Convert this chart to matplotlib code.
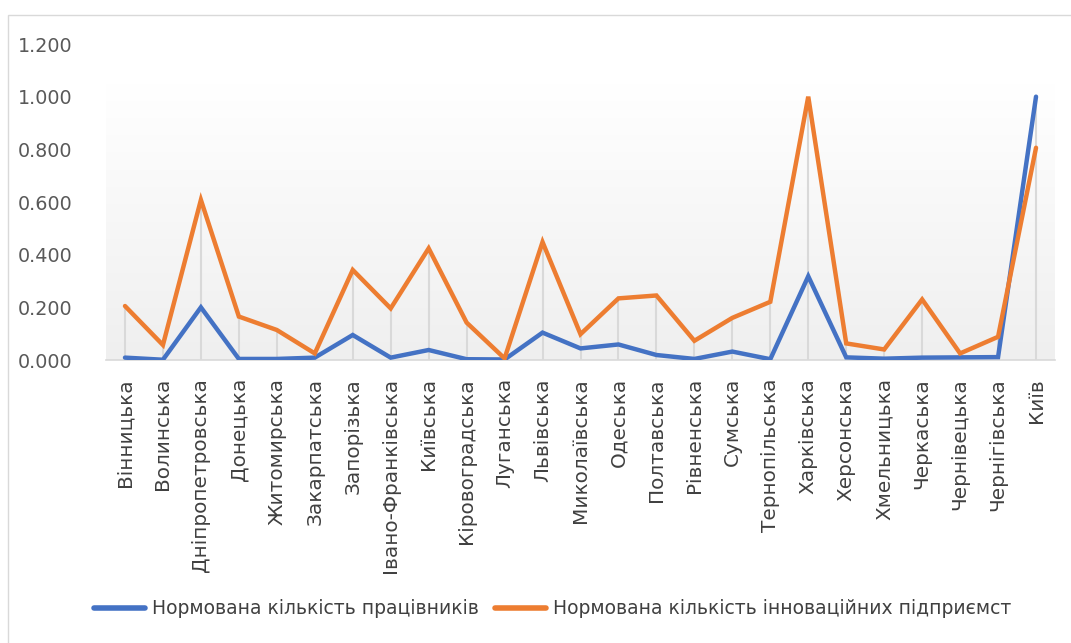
import matplotlib
matplotlib.use("Agg")
import matplotlib.pyplot as plt
import numpy as np
from matplotlib.patches import Rectangle
from matplotlib.colors import LinearSegmentedColormap

regions = ["Вінницька", "Волинська", "Дніпропетровська", "Донецька", "Житомирська",
           "Закарпатська", "Запорізька", "Івано-Франківська", "Київська", "Кіровоградська",
           "Луганська", "Львівська", "Миколаївська", "Одеська", "Полтавська",
           "Рівненська", "Сумська", "Тернопільська", "Харківська", "Херсонська",
           "Хмельницька", "Черкаська", "Чернівецька", "Чернігівська", "Київ"]

workers = [0.009, 0.001, 0.200, 0.004, 0.004, 0.009, 0.095, 0.009, 0.038, 0.003,
           0.002, 0.104, 0.044, 0.059, 0.019, 0.004, 0.032, 0.003, 0.318, 0.010,
           0.005, 0.009, 0.010, 0.011, 1.000]

innov = [0.205, 0.057, 0.608, 0.165, 0.114, 0.025, 0.342, 0.196, 0.424, 0.142,
         0.006, 0.448, 0.098, 0.234, 0.245, 0.073, 0.160, 0.221, 1.000, 0.063,
         0.040, 0.230, 0.025, 0.088, 0.806]

yticks = [0.0, 0.2, 0.4, 0.6, 0.8, 1.0, 1.2]
series_names = ["Нормована кількість працівників", "Нормована кількість інноваційних підприємст"]

W, H = 1071, 643
fig = plt.figure(figsize=(W / 100, H / 100), dpi=100)
fig.patch.set_facecolor("white")

# chart border
fig.patches.append(Rectangle((8 / W, -0.01), 1.02, 1 - 15 / H + 0.01, transform=fig.transFigure,
                             fill=False, edgecolor="#d9d9d9", linewidth=1.0))

ax = fig.add_axes([106 / W, 1 - 360 / H, (1055 - 106) / W, (360 - 44) / H])
x = np.arange(len(regions))
ax.set_xlim(-0.5, len(regions) - 0.5)
ax.set_ylim(0, 1.2)

# gradient background (plot area)
grad = np.linspace(0, 1, 256).reshape(-1, 1)
cmap = LinearSegmentedColormap.from_list("g", ["#efefef", "#ffffff"])
ax.imshow(grad, aspect="auto", cmap=cmap, origin="lower",
          extent=[-0.5, len(regions) - 0.5, 0, 1.05], zorder=0)

# drop lines
tops = np.maximum(workers, innov)
ax.vlines(x, 0, tops, colors="#d9d9d9", linewidth=1.5, zorder=1)

ax.plot(x, workers, color="#4472C4", linewidth=3.2, solid_capstyle="round",
        solid_joinstyle="miter", label=series_names[0], zorder=3)
ax.plot(x, innov, color="#ED7D31", linewidth=3.2, solid_capstyle="round",
        solid_joinstyle="miter", label=series_names[1], zorder=3)

for s in ["top", "right", "left"]:
    ax.spines[s].set_visible(False)
ax.spines["bottom"].set_color("#d9d9d9")
ax.spines["bottom"].set_linewidth(1.2)

ax.set_yticks(yticks)
ax.set_yticklabels([f"{v:.3f}" for v in yticks])
ax.tick_params(axis="y", length=0, pad=24, labelsize=13.8, labelcolor="#595959")
ax.set_xticks(x)
ax.set_xticklabels(regions, rotation=90, va="top", ha="center")
ax.tick_params(axis="x", length=0, pad=13, labelsize=14.4, labelcolor="#404040")

leg = fig.legend(loc="center", bbox_to_anchor=(0.516, 1 - 609 / H), ncol=2, frameon=False,
                 fontsize=13.5, handlelength=2.7, handletextpad=0.36, columnspacing=0.9,
                 labelcolor="#404040")
for l in leg.get_lines():
    l.set_linewidth(4)
    l.set_solid_capstyle("round")

fig.savefig("out.png", dpi=100)
